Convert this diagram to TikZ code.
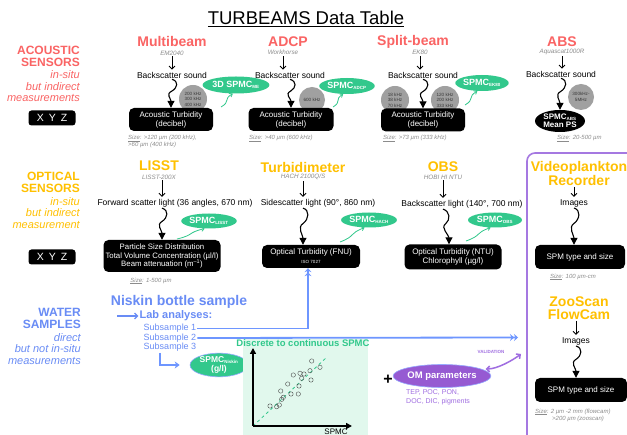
\documentclass[tikz,border=0pt]{standalone}
\usepackage{fontspec}
\setmainfont{Liberation Sans}
\usetikzlibrary{arrows.meta,shapes.geometric,calc}

\definecolor{acousticred}{RGB}{250,100,100}
\definecolor{opticalgold}{RGB}{255,192,0}
\definecolor{waterblue}{RGB}{105,140,245}
\definecolor{lineblue}{RGB}{110,150,255}
\definecolor{rimblue}{RGB}{150,170,255}
\definecolor{spmcgreen}{RGB}{50,200,140}
\definecolor{panelgreen}{RGB}{225,248,237}
\definecolor{framepurple}{RGB}{165,120,225}
\definecolor{ompurple}{RGB}{150,90,210}
\definecolor{omtext}{RGB}{160,110,225}
\definecolor{freqgray}{RGB}{160,160,160}
\definecolor{freqtext}{RGB}{55,55,55}
\definecolor{notegray}{RGB}{140,140,140}

\newcommand\lowsub[1]{\textsubscript{\fontsize{4.5}{5}\selectfont #1}}
\newcommand\sizetag{\underline{Size}:}

\tikzset{
  every node/.style={inner sep=1pt},
  sect/.style={font=\bfseries\fontsize{12}{12}\selectfont, align=right, anchor=east},
  sectnote/.style={font=\itshape\fontsize{11}{11.5}\selectfont, align=right, anchor=east},
  xyzbox/.style={fill=black, text=white, rounded corners=3pt, minimum width=47pt, minimum height=15pt, font=\fontsize{10.5}{12}\selectfont},
  insttitle/.style={font=\bfseries\fontsize{14}{13}\selectfont, align=center},
  model/.style={font=\itshape\fontsize{6.3}{7}\selectfont, text=notegray},
  signal/.style={font=\fontsize{8.5}{10}\selectfont},
  resbox/.style={fill=black, text=white, rounded corners=5pt, align=center, font=\fontsize{8}{9}\selectfont, inner sep=2pt},
  freq/.style={circle, fill=freqgray, text=freqtext, align=center, font=\fontsize{4.6}{5.4}\selectfont, minimum size=28pt, inner sep=0pt},
  spmc/.style={ellipse, fill=spmcgreen, text=white, font=\bfseries\fontsize{9}{10}\selectfont, inner sep=0pt},
  sizenote/.style={font=\itshape\fontsize{6}{7}\selectfont, text=notegray, align=left},
  subs/.style={font=\fontsize{9}{10}\selectfont, text=waterblue},
  arr/.style={line width=0.9pt, shorten >=1pt, -{Straight Barb[length=3pt,width=6pt]}},
  wavy/.style={line width=1.1pt, -{Triangle[length=7pt,width=7pt]}, to path={
    (\tikztostart) .. controls ($(\tikztostart)+(7pt,-2pt)$) and ($(\tikztostart)!0.3!(\tikztotarget)+(6pt,0pt)$)
    .. ($(\tikztostart)!0.42!(\tikztotarget)$)
    .. controls ($(\tikztostart)!0.52!(\tikztotarget)+(-6pt,0pt)$) and ($(\tikztotarget)+(0pt,9pt)$)
    .. (\tikztotarget)}},
  gwavy/.style={draw=spmcgreen, line width=0.8pt, -{Straight Barb[length=2.5pt,width=4pt]}, to path={
    (\tikztostart) .. controls ($(\tikztostart)!0.5!(\tikztotarget)+(4pt,-1pt)$) and ($(\tikztostart)!0.5!(\tikztotarget)+(-4pt,1pt)$) .. (\tikztotarget)}},
  blueline/.style={draw=lineblue, line width=1.8pt, -{Stealth[length=4pt,width=7pt,inset=1.5pt]Stealth[length=4pt,width=7pt,inset=1.5pt]}},
  elbow/.style={draw=lineblue, line width=2.4pt, -{Stealth[length=5pt,width=7pt]}},
  labarr/.style={draw=waterblue, line width=1.2pt, -{Straight Barb[length=3pt,width=6pt]}},
  axis/.style={line width=1.5pt, -{Triangle[length=6pt,width=6pt]}},
  dot/.style={draw=black!70, line width=0.4pt},
  valarr/.style={draw=omtext, line width=1.5pt, {Straight Barb[length=3pt,width=6pt]}-{Straight Barb[length=3pt,width=6pt]}},
}

\begin{document}
\begin{tikzpicture}[x=1pt,y=-1pt]
\useasboundingbox (0,0) rectangle (627,435);
\clip (0,0) rectangle (627,435);
\fill[white] (0,0) rectangle (627,435);

% ---------- title ----------
\node[font=\fontsize{18.5}{20}\selectfont] (title) at (306,19) {\underline{TURBEAMS Data Table}};

% ---------- row labels ----------
\node[sect, text=acousticred] (acLab) at (81,56) {ACOUSTIC\\SENSORS};
\node[sectnote, text=acousticred] (acNote) at (81,86.5) {in-situ\\but indirect\\measurements};
\node[xyzbox] (acXYZ) at (52,118) {X\hspace{5pt}Y\hspace{5pt}Z};

\node[sect, text=opticalgold] (opLab) at (81,182) {OPTICAL\\SENSORS};
\node[sectnote, text=opticalgold] (opNote) at (81,213) {in-situ\\but indirect\\measurement};
\node[xyzbox] (opXYZ) at (52,257) {X\hspace{5pt}Y\hspace{5pt}Z};

\node[sect, text=waterblue] (wsLab) at (82,318.5) {WATER\\SAMPLES};
\node[sectnote, text=waterblue] (wsNote) at (82,349) {direct\\but not in-situ\\measurements};

% ---------- acoustic sensors ----------
% Multibeam
\node[insttitle, text=acousticred] (mbT) at (172,42) {Multibeam};
\node[model] (mbM) at (172,53) {EM2040};
\node[signal] (mbS) at (172,75) {Backscatter sound};
\node[freq] (mbF) at (193,99) {200 kHz\\300 kHz\\400 kHz};
\node[resbox, minimum width=84pt, minimum height=23pt] (mbB) at (171,119.5) {Acoustic Turbidity\\(decibel)};
\node[sizenote, anchor=north west] (mbZ) at (127,134) {\sizetag{} >120 µm (200 kHz),\\>60 µm (400 kHz)};
\node[spmc, minimum width=55pt, minimum height=17pt] (mbE) at (236,85) {3D SPMC\lowsub{ME}};
\coordinate (mbG) at (221,107);
\draw[arr] (mbM.south) -- (mbS.north);
\draw[wavy] (mbS.south) to (mbB.north);
\draw[gwavy] (mbG) to (mbE.-110);

% ADCP
\node[insttitle, text=acousticred] (adT) at (288,42) {ADCP};
\node[model] (adM) at (283,52.5) {Workhorse};
\node[signal] (adS) at (290,75) {Backscatter sound};
\node[freq, minimum size=26pt] (adF) at (312,100) {600 kHz};
\node[resbox, minimum width=85pt, minimum height=23pt] (adB) at (291,119.5) {Acoustic Turbidity\\(decibel)};
\node[sizenote, anchor=north west] (adZ) at (248,134) {\sizetag{} >40 µm (600 kHz)};
\node[spmc, minimum width=48pt, minimum height=16pt] (adE) at (347,86) {SPMC\lowsub{ADCP}};
\coordinate (adG) at (333,107);
\draw[arr] (adM.south) -- (adM.south |- adS.north);
\draw[wavy] (adS.south) to (adB.north);
\draw[gwavy] (adG) to (adE.-115);

% Split-beam
\node[insttitle, text=acousticred] (sbT) at (413,42) {Split-beam};
\node[model] (sbM) at (420,52.5) {EK80};
\node[signal] (sbS) at (423,75) {Backscatter sound};
\node[freq] (sbF1) at (395,100) {18 kHz\\38 kHz\\70 kHz};
\node[freq] (sbF2) at (445,100) {120 kHz\\200 kHz\\333 kHz};
\node[resbox, minimum width=84pt, minimum height=23pt] (sbB) at (423,120) {Acoustic Turbidity\\(decibel)};
\node[sizenote, anchor=north west] (sbZ) at (382,134) {\sizetag{} >73 µm (333 kHz)};
\node[spmc, minimum width=53pt, minimum height=16pt] (sbE) at (482,83) {SPMC\lowsub{EK80}};
\coordinate (sbG) at (465,105);
\draw[arr] (sbM.south) -- (sbM.south |- sbS.north);
\draw[wavy] (sbS.south) to (sbB.north);
\draw[gwavy] (sbG) to (sbE.-120);

% ABS
\node[insttitle, text=acousticred] (abT) at (562,42) {ABS};
\node[model] (abM) at (562,52) {Aquascat1000R};
\node[signal] (abS) at (561,74) {Backscatter sound};
\node[freq, minimum size=26pt] (abF) at (581,97) {300kHz-\\5MHz};
\node[ellipse, fill=black, text=white, font=\bfseries\fontsize{8}{8.5}\selectfont, align=center, minimum width=50pt, minimum height=22pt, inner sep=0pt] (abB) at (560,121) {SPMC\lowsub{ABS}\\Mean PS};
\node[sizenote, anchor=north west] (abZ) at (556,134) {\sizetag{} 20-500 µm};
\draw[arr] (abM.south) -- (abM.south |- abS.north);
\draw[wavy] (abS.south) to (abB.north);

% ---------- optical sensors ----------
% LISST
\node[insttitle, text=opticalgold] (lsT) at (159,166) {LISST};
\node[model] (lsM) at (159,177) {LISST-200X};
\node[signal] (lsS) at (175,203) {Forward scatter light (36 angles, 670 nm)};
\node[resbox, font=\fontsize{7.8}{8.8}\selectfont, minimum width=117pt, minimum height=32pt] (lsB) at (162,256) {Particle Size Distribution\\Total Volume Concentration (µl/l)\\Beam attenuation (m\textsuperscript{–1})};
\node[sizenote] (lsZ) at (151,281) {\sizetag{} 1-500 µm};
\node[spmc, minimum width=52pt, minimum height=15pt] (lsE) at (209,221) {SPMC\lowsub{LISST}};
\coordinate (lsG) at (177,239);
\coordinate (lsW) at (lsS.south -| lsB.north);
\draw[arr] (lsM.south -| lsB.north) -- (lsS.north -| lsB.north);
\draw[wavy] (lsW) to (lsB.north);
\draw[gwavy] (lsG) to (lsE.-120);

% Turbidimeter
\node[insttitle, text=opticalgold] (tbT) at (303,167) {Turbidimeter};
\node[model] (tbM) at (303,177) {HACH 2100Q/S};
\node[signal] (tbS) at (318,203) {Sidescatter light (90°, 860 nm)};
\node[resbox, minimum width=98pt, minimum height=23pt] (tbB) at (311,256.5) {Optical Turbidity (FNU)\\{\fontsize{4.5}{5}\selectfont ISO 7027}};
\node[spmc, minimum width=55pt, minimum height=15pt] (tbE) at (369,220) {SPMC\lowsub{HACH}};
\coordinate (tbG) at (340,242);
\coordinate (tbW) at (tbS.south -| tbM.south);
\coordinate (tbV) at (tbB.north -| tbM.south);
\draw[arr] (tbM.south) -- (tbM.south |- tbS.north);
\draw[wavy] (tbW) to (tbV);
\draw[gwavy] (tbG) to (tbE.-120);

% OBS
\node[insttitle, text=opticalgold] (obT) at (443,167) {OBS};
\node[model] (obM) at (443,177) {HOBI HI NTU};
\node[signal] (obS) at (462,204) {Backscatter light (140°, 700 nm)};
\node[resbox, minimum width=97pt, minimum height=25pt] (obB) at (453,257) {Optical Turbidity (NTU)\\Chlorophyll (µg/l)};
\node[spmc, minimum width=54pt, minimum height=15pt] (obE) at (495,220) {SPMC\lowsub{OBS}};
\coordinate (obG) at (466,241);
\coordinate (obW) at (obS.south -| obM.south);
\coordinate (obV) at ([xshift=-4pt]obB.north);
\draw[arr] (obM.south) -- (obM.south |- obS.north);
\draw[wavy] (obW) to (obV);
\draw[gwavy] (obG) to (obE.-120);

% ---------- imaging panel ----------
\draw[framepurple, line width=1.6pt, rounded corners=8pt] (527,153) rectangle (650,450);

\node[insttitle, text=opticalgold] (vpT) at (579,173.5) {Videoplankton\\Recorder};
\node[signal] (vpS) at (574,203) {Images};
\node[resbox, minimum width=90pt, minimum height=24pt] (vpB) at (580,257) {SPM type and size};
\node[sizenote] (vpZ) at (573,277) {\sizetag{} 100 µm-cm};
\coordinate (vpV) at (vpB.north -| vpS.south);
\draw[arr] (vpT.south -| vpS.north) -- (vpS.north);
\draw[wavy] (vpS.south) to (vpV);

\node[insttitle, font=\bfseries\fontsize{14}{13.5}\selectfont, text=opticalgold] (zsT) at (579,308) {ZooScan\\FlowCam};
\node[signal] (zsS) at (576,341) {Images};
\node[resbox, minimum width=92pt, minimum height=24pt] (zsB) at (581,390) {SPM type and size};
\node[sizenote, anchor=north west] (zsZ) at (534,407.5) {\sizetag{} 2 µm -2 mm (flowcam)\\\hspace{17pt}>200 µm (zooscan)};
\coordinate (zsV) at (zsB.north -| zsS.south);
\draw[arr] (zsT.south -| zsS.north) -- (zsS.north);
\draw[wavy] (zsS.south) to (zsV);

% ---------- water samples ----------
\node[font=\bfseries\fontsize{14}{16}\selectfont, text=waterblue] (nsT) at (179,302) {Niskin bottle sample};
\node[font=\bfseries\fontsize{11}{12}\selectfont, text=waterblue] (nsL) at (176,316) {Lab analyses:};
\coordinate (nsA) at (117,316);
\draw[labarr] (nsA) -- (nsL.west);
\node[subs] (ns1) at (170,328.5) {Subsample 1};
\node[subs] (ns2) at (170,338) {Subsample 2};
\node[subs] (ns3) at (170,347.5) {Subsample 3};

\node[spmc, draw=rimblue, line width=0.6pt, align=center, font=\bfseries\fontsize{8.5}{9}\selectfont, minimum width=58pt, minimum height=21pt] (nsE) at (219,365) {SPMC\lowsub{Niskin}\\(g/l)};
\draw[elbow, shorten >=10pt] ([xshift=-10pt]ns3.south) |- (nsE.west);

\coordinate (ns2End) at (518,337.5);
\draw[blueline] (ns1.east) -| ([xshift=-3pt]tbB.south);
\draw[blueline] (ns2.east) -- (ns2End);

% ---------- discrete to continuous SPMC ----------
\fill[panelgreen] (243,339) rectangle (368,440);
\node[font=\bfseries\fontsize{9.5}{10}\selectfont, text=spmcgreen] (dcT) at (303,343) {Discrete to continuous SPMC};
\coordinate (org) at (253,426);
\coordinate (yEnd) at (253,348);
\coordinate (xEnd) at (352,426);
\coordinate (fitEnd) at (327,357);
\draw[spmcgreen, dashed, line width=0.8pt] (org) -- (fitEnd);
\foreach \p in {(311.7,361),(320,367.3),(310,370.7),(300,373.3),(293.3,375),(304,374),(301.7,378.3),(311,380),(287.7,384),(299,386),(280.7,391),(291,394),(298.3,394),(283.3,397.3),(281.7,399.3),(270,406),(279.3,405),(276.7,406.7)}
  \draw[dot] \p circle (2.2);
\draw[axis] (org) -- (yEnd);
\draw[axis] (org) -- (xEnd);
\node[anchor=north, font=\fontsize{8}{9}\selectfont] (xLab) at (336,428) {SPMC};

% ---------- organic matter ----------
\node[font=\bfseries\fontsize{16}{16}\selectfont] (plus) at (388,380) {+};
\node[ellipse, fill=ompurple, draw=rimblue, line width=0.6pt, text=white, font=\bfseries\fontsize{9.5}{10}\selectfont, minimum width=77pt, minimum height=23pt, inner sep=0pt] (om) at (442,376) {OM parameters};
\node[anchor=north west, font=\fontsize{7}{9}\selectfont, text=omtext, align=left] (omL) at (405,388) {TEP, POC, PON,\\DOC, DIC, pigments};
\node[font=\bfseries\fontsize{4.5}{5}\selectfont, text=omtext] (val) at (491,352) {VALIDATION};
\coordinate (valEnd) at (521,354);
\draw[valarr] ([xshift=4pt]om.10) .. controls +(12,0) and +(-8,6) .. (valEnd);

\end{tikzpicture}
\end{document}
